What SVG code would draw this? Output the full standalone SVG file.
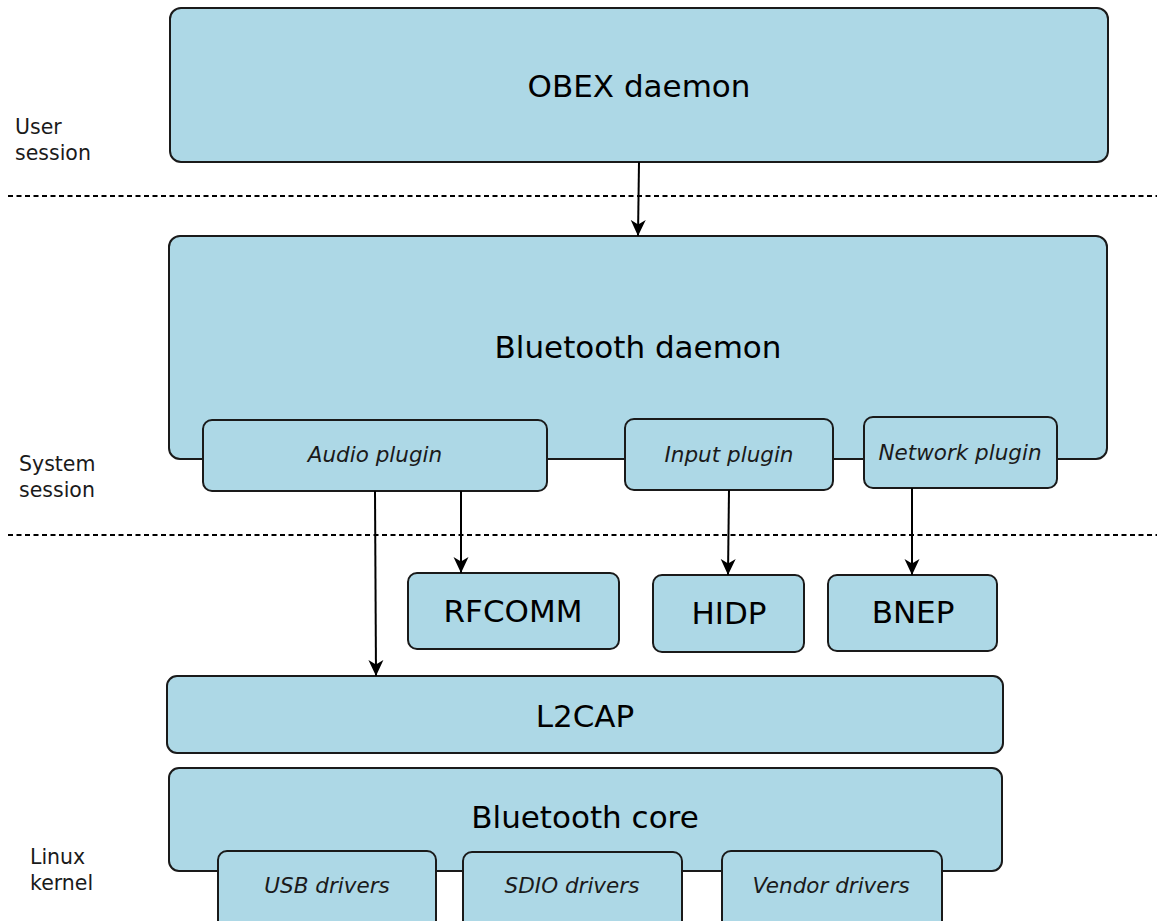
<svg xmlns="http://www.w3.org/2000/svg" width="1157" height="921" viewBox="0 0 1157 921">
<style>
.box{fill:#add8e6;stroke:#1a1a1a;stroke-width:2}
.big{font-family:"DejaVu Sans",sans-serif;font-size:31px;fill:#000;text-anchor:middle}
.sm{font-family:"DejaVu Sans",sans-serif;font-size:21.5px;font-style:italic;fill:#1a1a1a;text-anchor:middle}
.lab{font-family:"DejaVu Sans",sans-serif;font-size:20.5px;fill:#1a1a1a}
.sep{stroke:#000;stroke-width:2;stroke-dasharray:5,3.5;fill:none}
.conn{stroke:#000;stroke-width:2;fill:none;marker-end:url(#arr)}
</style>
<defs>
<marker id="arr" markerUnits="userSpaceOnUse" markerWidth="16" markerHeight="18" viewBox="0 0 16 18" refX="16" refY="9" orient="auto">
<path d="M0,1.5 L16,9 L0,16.5 L4.5,9 z" fill="#000"/>
</marker>
</defs>
<rect width="1157" height="921" fill="#fff"/>
<g id="labels">
<text class="lab" x="15" y="134">User</text>
<text class="lab" x="15" y="160">session</text>
<text class="lab" x="19" y="471">System</text>
<text class="lab" x="19" y="497">session</text>
<text class="lab" x="30" y="864">Linux</text>
<text class="lab" x="30" y="890">kernel</text>
</g>
<g id="separators">
<line class="sep" x1="8" y1="196" x2="1157" y2="196"/>
<line class="sep" x1="8" y1="535" x2="1157" y2="535"/>
</g>
<g id="obex"><rect class="box" x="170" y="8" width="938" height="154" rx="11"/><text class="big" x="639" y="97">OBEX daemon</text></g>
<g id="btdaemon"><rect class="box" x="169" y="236" width="938" height="223" rx="11"/><text class="big" x="638" y="358">Bluetooth daemon</text></g>
<g id="audio"><rect class="box" x="203" y="420" width="344" height="71" rx="9"/><text class="sm" x="375" y="462">Audio plugin</text></g>
<g id="input"><rect class="box" x="625" y="419" width="208" height="71" rx="9"/><text class="sm" x="729" y="462">Input plugin</text></g>
<g id="network"><rect class="box" x="864" y="417" width="193" height="71" rx="9"/><text class="sm" x="960" y="460">Network plugin</text></g>
<g id="rfcomm"><rect class="box" x="408" y="573" width="211" height="76" rx="9"/><text class="big" x="513" y="622">RFCOMM</text></g>
<g id="hidp"><rect class="box" x="653" y="575" width="151" height="77" rx="9"/><text class="big" x="729" y="624">HIDP</text></g>
<g id="bnep"><rect class="box" x="828" y="575" width="169" height="76" rx="9"/><text class="big" x="913" y="623">BNEP</text></g>
<g id="l2cap"><rect class="box" x="167" y="676" width="836" height="77" rx="10"/><text class="big" x="585" y="727">L2CAP</text></g>
<g id="btcore"><rect class="box" x="169" y="768" width="833" height="103" rx="10"/><text class="big" x="585" y="828">Bluetooth core</text></g>
<g id="usb"><rect class="box" x="218" y="851" width="218" height="80" rx="9"/><text class="sm" x="327" y="893">USB drivers</text></g>
<g id="sdio"><rect class="box" x="463" y="852" width="219" height="80" rx="9"/><text class="sm" x="572" y="893">SDIO drivers</text></g>
<g id="vendor"><rect class="box" x="722" y="851" width="220" height="80" rx="9"/><text class="sm" x="831" y="893">Vendor drivers</text></g>
<g id="connectors">
<line class="conn" x1="639" y1="162" x2="638" y2="236"/>
<line class="conn" x1="375" y1="491" x2="376" y2="676"/>
<line class="conn" x1="461" y1="491" x2="461" y2="573"/>
<line class="conn" x1="729" y1="490" x2="728" y2="575"/>
<line class="conn" x1="912" y1="488" x2="912" y2="575"/>
</g>
</svg>
